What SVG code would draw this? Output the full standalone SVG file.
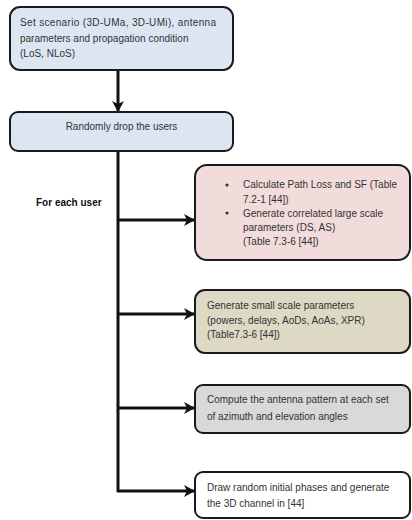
<svg xmlns="http://www.w3.org/2000/svg" width="412" height="520" viewBox="0 0 412 520">
<style>
.box{stroke:#1a1a1a;stroke-width:2}
.t{font-family:"Liberation Sans",Arial,sans-serif;font-size:10px;fill:#333}
.b{font-family:"Liberation Sans",Arial,sans-serif;font-size:10px;font-weight:bold;fill:#111}
.c{stroke:#111;stroke-width:3;fill:none}
</style>
<defs>
<marker id="ah" markerWidth="11" markerHeight="12" refX="10" refY="6" orient="auto" markerUnits="userSpaceOnUse">
<path d="M0,0 L11,6 L0,12 L3,6 Z" fill="#111"/>
</marker>
</defs>
<rect width="412" height="520" fill="#fff"/>
<g id="connectors">
<line class="c" x1="118" y1="70" x2="118" y2="111" marker-end="url(#ah)"/>
<line class="c" x1="118" y1="152" x2="118" y2="492"/>
<line class="c" x1="117" y1="220" x2="194" y2="220" marker-end="url(#ah)"/>
<line class="c" x1="117" y1="314" x2="194" y2="314" marker-end="url(#ah)"/>
<line class="c" x1="117" y1="408" x2="194" y2="408" marker-end="url(#ah)"/>
<line class="c" x1="117" y1="491" x2="194" y2="491" marker-end="url(#ah)"/>
</g>
<g id="n1">
<rect class="box" x="10" y="7" width="223" height="63" rx="10" fill="#dce6f2"/>
<text class="t" x="20" y="26" textLength="196">Set scenario (3D-UMa, 3D-UMi), antenna</text>
<text class="t" x="20" y="42">parameters and propagation condition</text>
<text class="t" x="20" y="57">(LoS, NLoS)</text>
</g>
<g id="n2">
<rect class="box" x="10" y="112" width="223" height="39" rx="8" fill="#dce6f2"/>
<text class="t" x="121.5" y="130" text-anchor="middle">Randomly drop the users</text>
</g>
<g id="label">
<text class="b" x="36" y="206">For each user</text>
</g>
<g id="n3">
<rect class="box" x="195" y="165" width="215" height="95" rx="12" fill="#f2dcdb"/>
<circle cx="227" cy="185" r="1.6" fill="#333"/>
<text class="t" x="243" y="188">Calculate Path Loss and SF (Table</text>
<text class="t" x="243" y="203">7.2-1 [44])</text>
<circle cx="227" cy="213" r="1.6" fill="#333"/>
<text class="t" x="243" y="217">Generate correlated large scale</text>
<text class="t" x="243" y="231">parameters (DS, AS)</text>
<text class="t" x="243" y="245">(Table 7.3-6 [44])</text>
</g>
<g id="n4">
<rect class="box" x="195" y="290" width="215" height="63" rx="10" fill="#ddd9c4"/>
<text class="t" x="207" y="309">Generate small scale parameters</text>
<text class="t" x="207" y="324">(powers, delays, AoDs, AoAs, XPR)</text>
<text class="t" x="207" y="338">(Table7.3-6 [44])</text>
</g>
<g id="n5">
<rect class="box" x="195" y="385" width="215" height="48" rx="8" fill="#d9d9d9"/>
<text class="t" x="207" y="403">Compute the antenna pattern at each set</text>
<text class="t" x="207" y="420">of azimuth and elevation angles</text>
</g>
<g id="n6">
<rect class="box" x="195" y="472" width="215" height="46" rx="8" fill="#ffffff"/>
<text class="t" x="207" y="491">Draw random initial phases and generate</text>
<text class="t" x="207" y="507">the 3D channel in [44]</text>
</g>
</svg>
